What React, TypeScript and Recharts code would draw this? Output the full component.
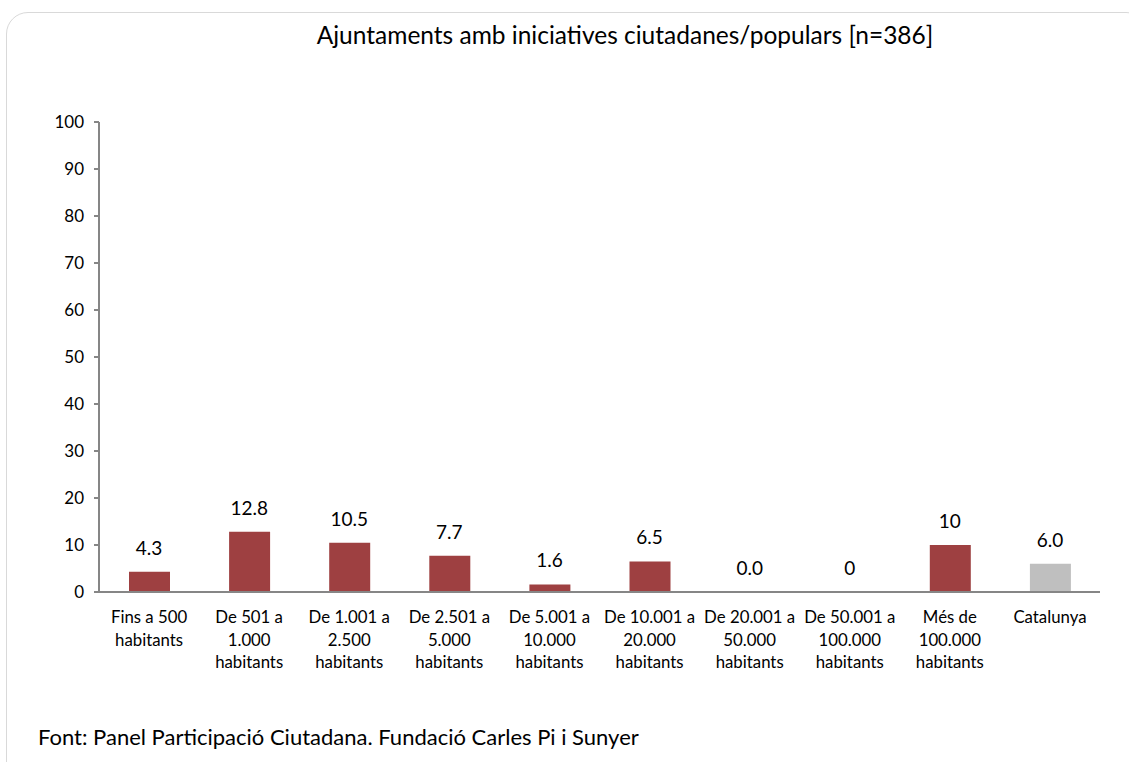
import React from 'react';
import { ComposedChart, Bar, Line, XAxis, YAxis, Cell, LabelList } from 'recharts';

const categories = [
  'Fins a 500|habitants',
  'De 501 a|1.000|habitants',
  'De 1.001 a|2.500|habitants',
  'De 2.501 a|5.000|habitants',
  'De 5.001 a|10.000|habitants',
  'De 10.001 a|20.000|habitants',
  'De 20.001 a|50.000|habitants',
  'De 50.001 a|100.000|habitants',
  'Més de|100.000|habitants',
  'Catalunya',
];
const values = [4.3, 12.8, 10.5, 7.7, 1.6, 6.5, 0, 0, 10, 6.0];
const valueLabels = ['4.3', '12.8', '10.5', '7.7', '1.6', '6.5', '0.0', '0', '10', '6.0'];
const yTicks = [0, 10, 20, 30, 40, 50, 60, 70, 80, 90, 100];

const data = categories.map((name, i) => ({ name, value: values[i], label: valueLabels[i] }));

const FONT = 'Lato, "Open Sans", sans-serif';

const CategoryTick = (props: any) => {
  const { x, y, payload } = props;
  const lines = String(payload.value).split('|');
  return (
    <text x={x} y={y} textAnchor="middle" fill="#000" fontSize={16.8} fontFamily={FONT}>
      {lines.map((l, i) => (
        <tspan key={i} x={x} dy={i === 0 ? 23 : 22.5}>{l}</tspan>
      ))}
    </text>
  );
};

// labels ride on an invisible line so zero-height bars still get one
const ValueLabel = (props: any) => {
  const { x, y, value } = props;
  return (
    <text x={x} y={y - 17} textAnchor="middle" fill="#000" fontSize={19} fontFamily={FONT}>
      {value}
    </text>
  );
};

export default function App() {
  return (
    <div style={{ position: 'absolute', left: 0, top: 0, width: 1129, height: 762, background: '#fff', overflow: 'hidden', fontFamily: FONT }}>
      <div style={{ position: 'absolute', left: 6, top: 12, width: 1140, height: 770, border: '1.5px solid #d9d9d9', borderRadius: 22 }} />
      <div style={{ position: 'absolute', left: 100, width: 1050, top: 20, textAlign: 'center', fontSize: 24.5, color: '#000' }}>
        Ajuntaments amb iniciatives ciutadanes/populars [n=386]
      </div>
      <div style={{ position: 'absolute', left: 38, top: 723, fontSize: 22, color: '#000' }}>
        Font: Panel Participació Ciutadana. Fundació Carles Pi i Sunyer
      </div>
      <div style={{ position: 'absolute', left: 0, top: 0 }}>
        <ComposedChart width={1129} height={762} data={data} margin={{ top: 122, right: 29, left: 39, bottom: 80 }} barCategoryGap={0}>
          <XAxis dataKey="name" height={90} interval={0} tickLine={false} axisLine={{ stroke: '#868686', strokeWidth: 2 }} tick={<CategoryTick />} />
          <YAxis domain={[0, 100]} ticks={yTicks} width={60} tickSize={5} tickLine={{ stroke: '#868686', strokeWidth: 2 }} axisLine={{ stroke: '#868686', strokeWidth: 2 }} tick={{ fill: '#000', fontSize: 17, fontFamily: FONT }} tickMargin={10} />
          <Bar dataKey="value" barSize={41} isAnimationActive={false}>
            {data.map((d, i) => (
              <Cell key={i} fill={i === data.length - 1 ? '#BFBFBF' : '#9E4041'} />
            ))}
          </Bar>
          <Line dataKey="value" stroke="none" dot={false} activeDot={false} isAnimationActive={false}>
            <LabelList dataKey="label" content={<ValueLabel />} />
          </Line>
        </ComposedChart>
      </div>
    </div>
  );
}
